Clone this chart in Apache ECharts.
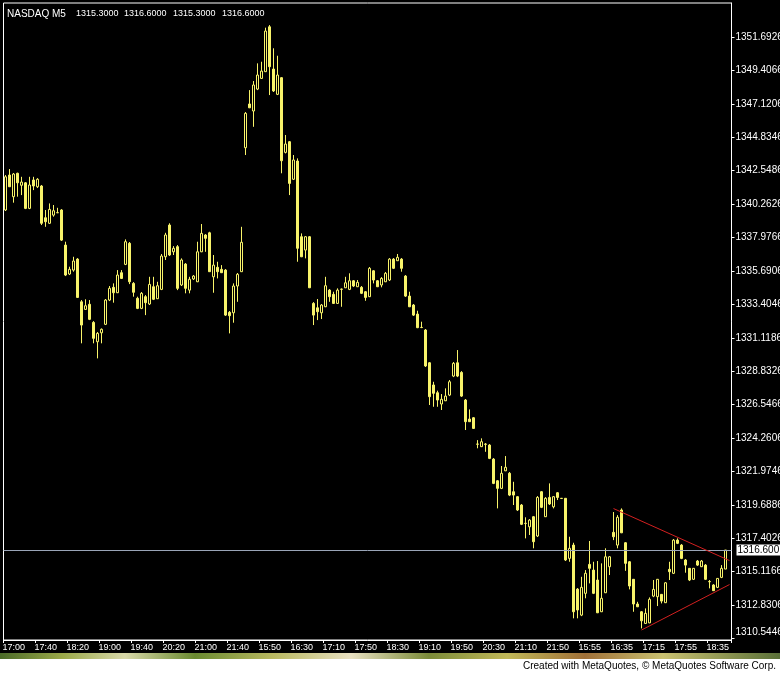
<!DOCTYPE html>
<html><head><meta charset="utf-8">
<script src="https://cdn.jsdelivr.net/npm/echarts@6/dist/echarts.min.js"></script>
<style>html,body{margin:0;padding:0;background:#000}#c{width:780px;height:675px}</style>
</head><body><div id="c"></div>
<script>
const symbolName = 'NASDAQ M5';
const lastBar = ['1315.3000', '1316.6000', '1315.3000', '1316.6000'];
const sessions = [['17:00', 60], ['15:30', 79], ['15:30', 42]];
const opens = [
1339.86,1342.25,1340.77,1342.37,1341.55,1341.72,1339.97,1341.91,1341.45,1341.50,
1339.33,1338.95,1339.51,1339.67,1339.86,1337.46,1335.48,1335.75,1336.50,1333.58,
1333.06,1333.41,1332.17,1330.85,1331.46,1332.04,1333.70,1334.57,1334.20,1335.57,
1336.14,1337.58,1334.84,1333.82,1333.13,1333.93,1333.43,1334.61,1333.79,1334.43,
1336.66,1338.83,1337.00,1337.35,1334.73,1336.16,1334.38,1335.14,1334.95,1337.00,
1338.15,1338.30,1335.29,1335.94,1335.80,1335.75,1332.86,1332.83,1334.66,1335.64,
1344.12,1347.11,1346.63,1348.13,1348.86,1349.32,1352.39,1349.50,1347.77,1348.91,
1343.80,1344.53,1341.96,1343.21,1338.03,1337.12,1338.03,1333.47,1333.17,1332.83,
1333.24,1334.38,1334.09,1333.47,1334.43,1334.54,1334.43,1335.02,1334.61,1334.57,
1334.27,1333.93,1335.70,1335.02,1334.73,1334.95,1335.07,1336.50,1336.39,1336.50,
1335.34,1333.97,1333.36,1332.74,1331.83,1331.65,1329.41,1327.89,1327.36,1326.59,
1326.81,1327.20,1328.50,1329.41,1328.75,1326.86,1325.56,1325.65,1323.85,1323.67,
1323.85,1323.78,1322.82,1321.34,1320.82,1322.02,1321.85,1320.59,1320.25,1319.68,
1318.43,1318.19,1318.88,1317.56,1320.59,1318.88,1320.20,1319.56,1320.52,1320.14,
1320.14,1316.03,1316.94,1313.93,1312.15,1313.64,1315.62,1315.23,1314.55,1312.38,
1313.68,1315.46,1317.81,1316.94,1319.34,1317.10,1315.80,1314.60,1312.91,1312.38,
1311.58,1311.62,1313.45,1313.41,1313.57,1313.00,1315.28,1315.01,1317.28,1316.94,
1315.92,1315.35,1314.60,1315.85,1315.46,1315.57,1314.43,1314.21,1314.05,1314.73,
1315.30];
const highs = [
1342.25,1342.66,1342.39,1342.41,1342.13,1341.77,1342.13,1342.13,1342.04,1341.57,
1339.86,1340.31,1340.20,1340.01,1339.92,1337.69,1335.98,1336.66,1336.57,1333.70,
1333.75,1333.70,1332.26,1331.51,1331.76,1333.77,1334.66,1334.84,1335.75,1335.75,
1337.85,1337.67,1334.93,1333.93,1334.25,1334.04,1335.29,1335.29,1334.95,1336.85,
1338.30,1338.95,1337.39,1337.46,1336.55,1336.23,1335.29,1335.41,1337.69,1338.90,
1338.21,1338.37,1336.78,1336.32,1336.09,1335.82,1332.95,1334.84,1335.55,1338.71,
1346.56,1348.06,1348.68,1349.89,1350.00,1352.33,1352.51,1350.92,1350.41,1348.95,
1344.99,1344.58,1343.62,1343.39,1338.26,1338.08,1338.08,1333.56,1333.77,1333.43,
1335.29,1334.45,1334.27,1334.50,1334.49,1335.29,1335.53,1335.07,1335.07,1334.66,
1334.32,1335.96,1335.75,1335.07,1335.27,1335.62,1336.57,1336.57,1336.85,1336.57,
1335.41,1334.27,1333.43,1332.97,1332.22,1331.72,1329.46,1328.11,1327.50,1327.27,
1327.66,1328.23,1329.46,1330.28,1328.84,1326.93,1326.22,1325.70,1324.12,1324.24,
1323.92,1323.85,1322.89,1321.39,1322.35,1323.03,1321.94,1321.27,1320.29,1319.75,
1318.84,1318.72,1318.93,1320.29,1320.64,1320.22,1321.16,1320.29,1320.57,1320.16,
1320.16,1317.51,1317.10,1314.00,1314.77,1315.23,1317.22,1315.80,1315.85,1315.69,
1316.72,1316.19,1319.20,1318.99,1319.45,1317.15,1315.85,1314.62,1313.06,1312.43,
1312.61,1313.36,1314.55,1314.62,1313.59,1314.41,1315.80,1317.35,1317.40,1317.01,
1315.98,1315.37,1315.37,1315.92,1315.92,1315.64,1314.55,1314.27,1314.68,1315.57,
1316.60];
const lows = [
1339.79,1341.43,1340.36,1340.77,1340.88,1339.92,1339.92,1341.22,1341.36,1338.83,
1338.71,1338.90,1339.40,1339.65,1337.74,1335.34,1335.41,1335.64,1333.84,1330.74,
1333.02,1332.33,1330.74,1329.71,1330.74,1331.99,1333.63,1333.52,1334.18,1335.14,
1336.09,1334.79,1333.93,1333.08,1333.08,1332.67,1333.36,1333.70,1333.77,1334.38,
1336.44,1336.71,1336.78,1334.38,1334.66,1334.16,1334.16,1335.07,1334.93,1336.98,
1337.00,1335.62,1334.20,1335.18,1335.55,1332.61,1331.42,1332.15,1333.58,1335.62,
1343.62,1346.83,1345.55,1348.06,1348.82,1349.30,1347.72,1347.93,1347.72,1342.37,
1343.73,1340.88,1341.91,1336.32,1336.64,1336.55,1334.52,1331.99,1332.33,1332.40,
1333.22,1333.58,1333.43,1333.43,1333.24,1334.52,1334.38,1334.59,1334.59,1334.11,
1333.65,1333.91,1334.84,1334.59,1334.57,1334.93,1335.00,1335.82,1336.37,1335.64,
1333.91,1333.22,1332.61,1331.78,1331.78,1329.12,1326.52,1326.40,1326.40,1326.18,
1326.79,1327.13,1328.43,1328.43,1327.07,1324.81,1325.36,1324.88,1323.56,1323.65,
1323.32,1322.82,1321.11,1319.45,1320.77,1322.00,1320.29,1319.68,1319.27,1318.31,
1317.40,1317.63,1316.72,1317.49,1319.47,1318.86,1319.68,1319.45,1320.02,1320.09,
1315.85,1315.80,1311.93,1311.93,1312.08,1313.30,1314.32,1313.59,1312.29,1312.36,
1313.66,1314.89,1317.28,1316.72,1317.76,1315.18,1313.91,1312.38,1312.70,1311.24,
1311.54,1311.60,1313.38,1312.77,1312.95,1312.98,1314.55,1314.96,1317.01,1315.98,
1315.05,1314.48,1314.55,1315.51,1315.44,1314.55,1313.98,1313.80,1314.00,1314.68,
1315.30];
const closes = [
1342.13,1341.45,1342.32,1341.72,1341.77,1339.97,1341.57,1341.50,1341.96,1338.95,
1339.06,1339.90,1339.81,1339.68,1337.80,1335.41,1335.80,1336.37,1333.88,1331.99,
1333.31,1332.38,1331.08,1331.42,1331.70,1333.70,1334.50,1334.20,1335.41,1335.18,
1337.69,1334.95,1334.23,1333.13,1334.16,1333.52,1334.77,1333.75,1334.68,1336.71,
1338.15,1336.78,1337.24,1334.50,1336.44,1334.50,1335.12,1335.34,1337.00,1338.26,
1337.92,1335.64,1336.09,1335.64,1335.57,1332.67,1332.63,1334.66,1335.46,1337.65,
1346.47,1346.85,1348.41,1349.09,1349.36,1352.10,1349.66,1348.00,1349.09,1343.23,
1344.37,1341.68,1343.28,1337.24,1336.66,1338.03,1334.54,1332.67,1332.90,1333.36,
1334.68,1333.93,1333.47,1334.38,1334.45,1334.88,1335.02,1334.66,1334.91,1334.16,
1333.88,1335.87,1335.07,1334.61,1335.18,1335.53,1336.50,1335.87,1336.62,1335.87,
1333.97,1333.24,1332.67,1331.81,1331.82,1329.19,1327.09,1327.32,1326.86,1326.91,
1327.13,1328.11,1329.37,1328.50,1327.13,1325.38,1325.38,1324.92,1323.84,1324.01,
1323.83,1322.87,1321.16,1320.82,1321.85,1322.26,1320.36,1320.36,1319.34,1318.36,
1318.42,1318.65,1317.17,1320.20,1319.52,1320.14,1319.75,1320.25,1320.20,1320.13,
1315.92,1316.72,1312.38,1312.50,1314.05,1315.01,1315.35,1313.64,1312.31,1313.30,
1316.14,1316.14,1317.51,1318.84,1317.78,1315.69,1314.14,1312.91,1312.72,1311.76,
1312.27,1313.23,1313.91,1314.60,1313.11,1314.36,1315.12,1317.28,1317.06,1316.03,
1315.57,1314.55,1315.35,1315.57,1315.85,1314.60,1314.45,1313.82,1314.66,1315.35,
1316.60];
const yTicks = [1310.5446,1312.8306,1315.1166,1317.4026,1319.6886,1321.9746,1324.2606,
  1326.5466,1328.8326,1331.1186,1333.4046,1335.6906,1337.9766,1340.2626,1342.5486,
  1344.8346,1347.1206,1349.4066,1351.6926];
const yMin = 1310.448, yMax = 1354.018;
const currentPrice = 1316.6;
const trendUpper = [[152, 1319.44], [181, 1315.88]];
const trendLower = [[159, 1311.13], [181, 1314.24]];

// category labels (bar open times)
const times = [];
sessions.forEach(([start, n]) => {
  let [h, m] = start.split(':').map(Number);
  for (let i = 0; i < n; i++) {
    times.push(String(h).padStart(2, '0') + ':' + String(m).padStart(2, '0'));
    m += 5; if (m >= 60) { m -= 60; h++; }
  }
});
times.push('');
const ohlc = opens.map((o, i) => [o, closes[i], lows[i], highs[i]]);

const Y = '#f8f36a';
const FONT = 'Liberation Sans';
const headerX = [76, 124, 173, 222];
const graphics = [
  { type: 'text', left: 7, top: 9, z: 10,
    style: { text: symbolName, fill: '#fff', font: '10px "' + FONT + '"' } }
];
lastBar.forEach((t, i) => graphics.push({ type: 'text', left: headerX[i], top: 9, z: 10,
  style: { text: t, fill: '#fff', font: '9px "' + FONT + '"' } }));
graphics.push(
  { type: 'rect', shape: { x: 0, y: 653, width: 780, height: 6 }, z: 10,
    style: { fill: new echarts.graphic.LinearGradient(0, 0, 1, 0, [
      { offset: 0, color: '#4a6a28' }, { offset: 0.08, color: '#9aa848' }, { offset: 0.16, color: '#d8d8a8' },
      { offset: 0.25, color: '#6a8a30' }, { offset: 0.35, color: '#b8b860' }, { offset: 0.45, color: '#e8e0c0' },
      { offset: 0.55, color: '#7a8a38' }, { offset: 0.65, color: '#c0b858' }, { offset: 0.75, color: '#a07038' },
      { offset: 0.85, color: '#c8c070' }, { offset: 1, color: '#5a7038' }]) } },
  { type: 'rect', shape: { x: 0, y: 659, width: 780, height: 16 }, z: 10, style: { fill: '#fff' } },
  { type: 'text', right: 4, top: 661, z: 11,
    style: { text: 'Created with MetaQuotes, \u00a9 MetaQuotes Software Corp.', fill: '#000', font: '10px "' + FONT + '"' } }
);

const chart = echarts.init(document.getElementById('c'), null, { renderer: 'canvas' });
chart.setOption({
  backgroundColor: '#000',
  animation: false,
  grid: { left: 3.5, top: 3, right: 48.5, bottom: 35, show: true, borderColor: '#fff', borderWidth: 1,
    containLabel: false, outerBoundsMode: 'none' },
  xAxis: {
    type: 'category', data: times, boundaryGap: true,
    axisLine: { show: true, lineStyle: { color: '#fff', width: 1 } },
    axisTick: { show: true, interval: 7, length: 3, lineStyle: { color: '#fff' } },
    axisLabel: { interval: 7, color: '#fff', fontSize: 9, fontFamily: FONT, align: 'left', margin: 3, padding: [0, 0, 0, -3] },
    splitLine: { show: false }
  },
  yAxis: {
    type: 'value', position: 'right', min: yMin, max: yMax,
    axisLine: { show: true, lineStyle: { color: '#fff', width: 1 } },
    axisTick: { show: true, length: 3, customValues: yTicks, lineStyle: { color: '#fff' } },
    axisLabel: { customValues: yTicks, color: '#fff', fontSize: 10, fontFamily: FONT, margin: 4,
      formatter: v => (Math.abs(v - yTicks[0]) < 1e-6 ? '{low|' + v.toFixed(4) + '}' : v.toFixed(4)),
      rich: { low: { color: '#fff', fontSize: 10, fontFamily: FONT, padding: [0, 0, 12, 0] } } },
    splitLine: { show: false }
  },
  graphic: graphics,
  series: [
    {
      type: 'candlestick', data: ohlc, barWidth: 2,
      itemStyle: { color: '#000', color0: Y, borderColor: Y, borderColor0: Y, borderColorDoji: Y, borderWidth: 1 },
      markLine: {
        symbol: 'none', silent: true, animation: false,
        lineStyle: { color: '#9aa5b8', width: 1, type: 'solid' },
        label: { show: true, position: 'end', formatter: currentPrice.toFixed(3), color: '#000', backgroundColor: '#fff',
          padding: [1, 1, 0, 1], fontSize: 10, fontFamily: FONT, distance: 5 },
        data: [{ yAxis: currentPrice }]
      }
    },
    { type: 'line', data: trendUpper, symbol: 'none', silent: true, z: 5, lineStyle: { color: '#d42020', width: 1 } },
    { type: 'line', data: trendLower, symbol: 'none', silent: true, z: 5, lineStyle: { color: '#d42020', width: 1 } }
  ]
});
</script></body></html>
